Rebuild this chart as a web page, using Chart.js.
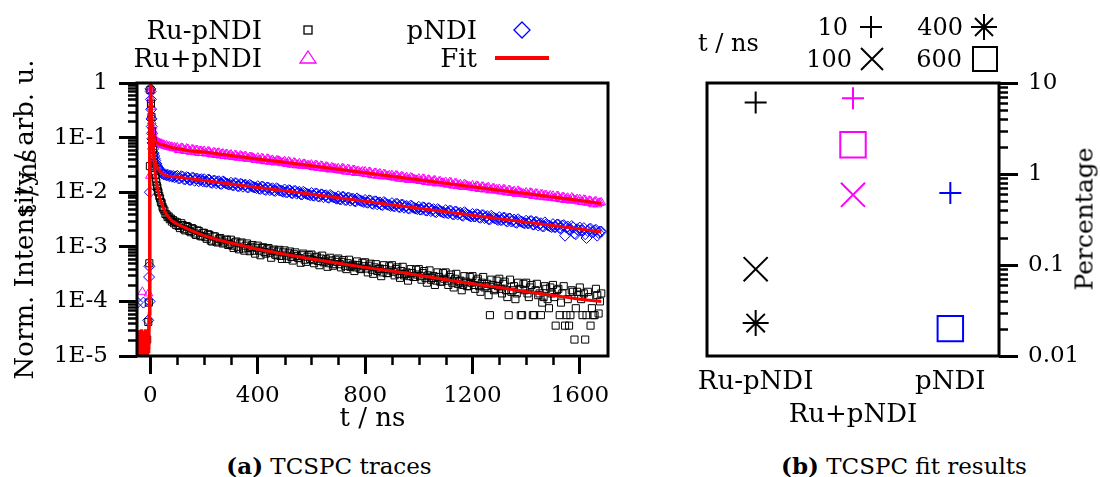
<!DOCTYPE html>
<html>
<head>
<meta charset="utf-8">
<script src="https://cdn.jsdelivr.net/npm/chart.js@4/dist/chart.umd.min.js"></script>
<style>
  body { margin: 0; width: 1100px; height: 477px; background: #fff; position: relative; overflow: hidden;
         font-family: "DejaVu Serif", serif; color: #000; }
  canvas { position: absolute; top: 0; }
  #traces { left: 0; }
  #fits { left: 660px; }
  .t { position: absolute; font-size: 26px; line-height: 1; white-space: nowrap; }
  .n { font-size: 24px; }
  .r { transform: translate(-100%, -50%); }
  .l { transform: translate(0, -50%); }
  .rot { transform: translate(-50%, -50%) rotate(-90deg); }
  .sym { position: absolute; transform: translate(-50%, -50%); }
  .cap { position: absolute; top: 465px; font-size: 23px; transform: translate(-50%, -50%); white-space: nowrap; }
</style>
</head>
<body>
<canvas id="traces" width="650" height="440"></canvas>
<canvas id="fits" width="440" height="440"></canvas>

<!-- legend, panel a -->
<div class="t r" style="left:262px; top:30px">Ru-pNDI</div>
<svg class="sym" style="left:308px; top:30px" width="12" height="12"><rect x="2" y="2" width="8" height="8" fill="none" stroke="#000" stroke-width="1.3"/></svg>
<div class="t r" style="left:262px; top:58px">Ru+pNDI</div>
<svg class="sym" style="left:308px; top:57px" width="20" height="16"><polygon points="10,2 18,14 2,14" fill="none" stroke="#ff00ff" stroke-width="1.3"/></svg>
<div class="t r" style="left:477px; top:30px">pNDI</div>
<svg class="sym" style="left:522px; top:30px" width="20" height="20"><polygon points="10,2 18,10 10,18 2,10" fill="none" stroke="#0000ff" stroke-width="1.3"/></svg>
<div class="t r" style="left:477px; top:58px">Fit</div>
<svg class="sym" style="left:522px; top:58px" width="54" height="6"><line x1="0" y1="3" x2="54" y2="3" stroke="#ff0000" stroke-width="4"/></svg>

<!-- legend, panel b -->
<div class="t n l" style="left:698px; top:43px">t / ns</div>
<div class="t n r" style="left:848px; top:27px">10</div>
<svg class="sym" style="left:871px; top:27px" width="26" height="26"><path d="M2 13H24M13 2V24" stroke="#000" stroke-width="2"/></svg>
<div class="t n r" style="left:852px; top:59px">100</div>
<svg class="sym" style="left:872px; top:59px" width="26" height="26"><path d="M2 2L24 24M24 2L2 24" stroke="#000" stroke-width="2"/></svg>
<div class="t n r" style="left:963px; top:27px">400</div>
<svg class="sym" style="left:984px; top:27px" width="28" height="28"><path d="M14 1V27M1 14H27M5 5L23 23M23 5L5 23" stroke="#000" stroke-width="2"/></svg>
<div class="t n r" style="left:962px; top:59px">600</div>
<svg class="sym" style="left:985px; top:59px" width="28" height="28"><rect x="2" y="2" width="24" height="24" fill="none" stroke="#000" stroke-width="2"/></svg>

<div class="t rot" style="left:1084px; top:219px; font-size:25px">Percentage</div>
<div class="t rot" style="left:27px; top:182px">t / ns</div>

<div class="cap" style="left:329px"><b>(a)</b> TCSPC traces</div>
<div class="cap" style="left:904px"><b>(b)</b> TCSPC fit results</div>

<script>
// ---------- panel (a): TCSPC traces ----------
const xTicks = [0, 400, 800, 1200, 1600];
const xMinor = [100, 200, 300, 500, 600, 700, 900, 1000, 1100, 1300, 1400, 1500];
const yTicks = [1e-5, 1e-4, 1e-3, 1e-2, 1e-1, 1];
const yTickLabels = ['1E-5', '1E-4', '1E-3', '1E-2', '1E-1', '1'];
const yMinor = [2e-5,3e-5,4e-5,5e-5,6e-5,7e-5,8e-5,9e-5, 2e-4,3e-4,4e-4,5e-4,6e-4,7e-4,8e-4,9e-4,
                2e-3,3e-3,4e-3,5e-3,6e-3,7e-3,8e-3,9e-3, 2e-2,3e-2,4e-2,5e-2,6e-2,7e-2,8e-2,9e-2,
                0.2,0.3,0.4,0.5,0.6,0.7,0.8,0.9];

// time channels after 100 ns
const tLate = [
  100,110,120,130,140,150,160,170,180,190,
  200,210,220,230,240,250,260,270,280,290,
  300,310,320,330,340,350,360,370,380,390,
  400,410,420,430,440,450,460,470,480,490,
  500,510,520,530,540,550,560,570,580,590,
  600,610,620,630,640,650,660,670,680,690,
  700,710,720,730,740,750,760,770,780,790,
  800,810,820,830,840,850,860,870,880,890,
  900,910,920,930,940,950,960,970,980,990,
  1000,1010,1020,1030,1040,1050,1060,1070,1080,1090,
  1100,1110,1120,1130,1140,1150,1160,1170,1180,1190,
  1200,1210,1220,1230,1240,1250,1260,1270,1280,1290,
  1300,1310,1320,1330,1340,1350,1360,1370,1380,1390,
  1400,1410,1420,1430,1440,1450,1460,1470,1480,1490,
  1500,1510,1520,1530,1540,1550,1560,1570,1580,1590,
  1600,1610,1620,1630,1640,1650,1660,1670,1680
];
const tLateMid = [
  105,115,125,135,145,155,165,175,185,195,
  205,215,225,235,245,255,265,275,285,295,
  305,315,325,335,345,355,365,375,385,395,
  405,415,425,435,445,455,465,475,485,495,
  505,515,525,535,545,555,565,575,585,595,
  605,615,625,635,645,655,665,675,685,695,
  705,715,725,735,745,755,765,775,785,795,
  805,815,825,835,845,855,865,875,885,895,
  905,915,925,935,945,955,965,975,985,995,
  1005,1015,1025,1035,1045,1055,1065,1075,1085,1095,
  1105,1115,1125,1135,1145,1155,1165,1175,1185,1195,
  1205,1215,1225,1235,1245,1255,1265,1275,1285,1295,
  1305,1315,1325,1335,1345,1355,1365,1375,1385,1395,
  1405,1415,1425,1435,1445,1455,1465,1475,1485,1495,
  1505,1515,1525,1535,1545,1555,1565,1575,1585,1595,
  1605,1615,1625,1635,1645,1655,1665,1675
];

// Ru-pNDI (black squares)
const ruMinusEarlyT = [-12,-8,-6,-4,-2,0,2,4,6,8,10,12,14,16,18,20,22,24,26,28,30,33,36,39,42,45,48,52,56,60,64,68,72,76,80,84,88,92,96];
const ruMinusEarly = [2.0e-5,4.2e-5,9.5e-5,5.0e-4,0.03,0.75,0.42,0.24,0.13,0.088,0.060,0.046,0.034,0.028,0.021,0.018,0.0152,0.013,0.0121,0.0104,
  0.0099,0.0085,0.0077,0.0066,0.0063,0.0054,0.0050,0.0046,0.0040,0.0039,0.0035,0.0036,0.0032,0.0033,0.0029,0.0031,0.0027,0.0029,0.0025];
const ruMinusLate = [
  28e-4,22e-4,25e-4,20e-4,23e-4,18.5e-4,21e-4,16.5e-4,19.5e-4,15.5e-4,
  18e-4,14e-4,16.5e-4,12.5e-4,15.5e-4,12e-4,14.5e-4,11.5e-4,13.5e-4,10.8e-4,
  13.5e-4,9.5e-4,12.5e-4,9.0e-4,12.0e-4,8.5e-4,11.5e-4,8.3e-4,10.8e-4,7.5e-4,
  10.5e-4,7.0e-4,9.8e-4,7.5e-4,9.5e-4,6.3e-4,8.9e-4,7.0e-4,8.8e-4,6.0e-4,
  8.6e-4,6.0e-4,8.2e-4,5.6e-4,7.9e-4,6.3e-4,5.1e-4,7.5e-4,5.3e-4,7.1e-4,
  7.2e-4,5.0e-4,6.6e-4,4.6e-4,6.9e-4,5.4e-4,4.3e-4,6.3e-4,4.5e-4,5.8e-4,
  6.1e-4,4.2e-4,5.7e-4,3.9e-4,5.8e-4,4.5e-4,3.6e-4,5.4e-4,4.0e-4,5.1e-4,
  5.2e-4,3.4e-4,4.9e-4,3.2e-4,4.8e-4,3.9e-4,2.9e-4,4.6e-4,3.3e-4,4.4e-4,
  4.6e-4,3.0e-4,4.2e-4,2.7e-4,4.3e-4,3.2e-4,2.4e-4,3.9e-4,2.8e-4,3.8e-4,
  3.9e-4,2.5e-4,3.6e-4,2.2e-4,3.7e-4,2.7e-4,2.0e-4,3.4e-4,2.3e-4,3.3e-4,
  3.4e-4,2.0e-4,3.1e-4,1.8e-4,3.2e-4,2.3e-4,1.6e-4,2.9e-4,1.9e-4,2.8e-4,
  2.9e-4,1.7e-4,2.6e-4,1.5e-4,2.8e-4,1.9e-4,1.3e-4,2.5e-4,1.6e-4,2.4e-4,
  2.6e-4,1.4e-4,2.3e-4,1.2e-4,2.5e-4,1.6e-4,1.1e-4,2.2e-4,0.56e-4,2.1e-4,
  2.2e-4,1.2e-4,2.0e-4,0.56e-4,2.1e-4,1.4e-4,0.95e-4,1.9e-4,1.1e-4,1.8e-4,
  2.0e-4,0.36e-4,1.7e-4,0.95e-4,1.9e-4,0.56e-4,0.36e-4,1.6e-4,0.2e-4,1.5e-4,
  1.8e-4,0.56e-4,0.2e-4,1.5e-4,0.36e-4,0.56e-4,1.7e-4,0.6e-4,1.4e-4
];
const ruMinusLateMid = [
  24e-4,27e-4,21e-4,24e-4,19.5e-4,22e-4,17.5e-4,20e-4,16e-4,18e-4,
  15e-4,17e-4,13e-4,15.5e-4,12.5e-4,14e-4,13e-4,12e-4,13.5e-4,11.2e-4,
  10.5e-4,12e-4,10e-4,11.5e-4,9.3e-4,10.5e-4,9.5e-4,10e-4,8.5e-4,9.6e-4,
  8.5e-4,9.5e-4,8.0e-4,9.0e-4,7.8e-4,8.5e-4,7.2e-4,8.2e-4,6.8e-4,7.9e-4,
  6.9e-4,7.6e-4,6.5e-4,7.3e-4,6.8e-4,6.2e-4,7.0e-4,5.8e-4,6.6e-4,6.0e-4,
  5.7e-4,6.4e-4,5.5e-4,6.1e-4,5.2e-4,5.9e-4,5.0e-4,5.6e-4,4.8e-4,5.3e-4,
  4.8e-4,5.3e-4,4.5e-4,5.0e-4,4.3e-4,4.7e-4,4.2e-4,4.6e-4,3.9e-4,4.4e-4,
  4.0e-4,4.5e-4,3.8e-4,4.2e-4,3.6e-4,4.0e-4,3.4e-4,3.9e-4,3.3e-4,3.7e-4,
  3.5e-4,3.9e-4,3.2e-4,3.6e-4,3.0e-4,3.4e-4,2.9e-4,3.3e-4,2.8e-4,3.1e-4,
  2.9e-4,3.3e-4,2.7e-4,3.0e-4,2.5e-4,2.9e-4,2.4e-4,2.8e-4,2.3e-4,2.6e-4,
  2.4e-4,2.8e-4,2.2e-4,2.6e-4,2.1e-4,2.4e-4,2.0e-4,2.3e-4,1.9e-4,2.2e-4,
  2.0e-4,2.4e-4,1.9e-4,2.2e-4,1.8e-4,2.1e-4,0.56e-4,2.0e-4,1.7e-4,1.9e-4,
  1.7e-4,2.1e-4,1.6e-4,0.56e-4,1.5e-4,1.9e-4,1.4e-4,1.7e-4,0.56e-4,1.6e-4,
  1.4e-4,1.8e-4,0.56e-4,1.6e-4,1.3e-4,0.56e-4,1.2e-4,1.7e-4,0.75e-4,1.4e-4,
  1.2e-4,1.6e-4,0.56e-4,1.4e-4,0.36e-4,1.1e-4,0.56e-4,1.5e-4,0.75e-4,1.3e-4,
  1.1e-4,1.4e-4,0.56e-4,1.2e-4,0.75e-4,0.56e-4,1.3e-4,1.0e-4
];

// Ru+pNDI (magenta triangles)
const ruPlusEarlyT = [-30,-7,-2,0,1,2,3,4,5,6,7,8,10,12,14,16,18,20,23,26,29,32,35,38,42,46,50,55,60,65,70,75,80,85,90,95];
const ruPlusEarly = [1.5e-4,1.4e-4,0.02,0.8,0.72,0.52,0.36,0.26,0.2,0.16,0.14,0.125,0.11,0.1,0.096,0.092,0.089,0.087,0.085,0.082,
  0.081,0.078,0.079,0.076,0.077,0.073,0.074,0.070,0.072,0.068,0.069,0.066,0.068,0.064,0.066,0.063];
const ruPlusLate = [
  66e-3,60e-3,64e-3,57e-3,62e-3,55e-3,60e-3,59e-3,52e-3,57e-3,
  57e-3,51e-3,55e-3,49e-3,53e-3,52e-3,47e-3,51e-3,49e-3,45e-3,
  49e-3,44e-3,47e-3,43e-3,46e-3,45e-3,41e-3,44e-3,43e-3,39e-3,
  43e-3,38e-3,41e-3,37e-3,40e-3,38e-3,36e-3,38e-3,37e-3,34e-3,
  37e-3,33e-3,35e-3,32e-3,34e-3,32e-3,31e-3,33e-3,30e-3,31e-3,
  32e-3,28.5e-3,31e-3,28e-3,30e-3,27.5e-3,29e-3,26e-3,28e-3,27e-3,
  27.5e-3,25e-3,27e-3,24e-3,26e-3,23.5e-3,25.5e-3,24e-3,22.5e-3,24e-3,
  24e-3,21.5e-3,23e-3,20.5e-3,22.5e-3,21e-3,20e-3,21.5e-3,19.5e-3,20.5e-3,
  20.5e-3,18.5e-3,20e-3,17.8e-3,19.3e-3,18e-3,17e-3,18.7e-3,17.5e-3,16.8e-3,
  17.8e-3,16e-3,17.3e-3,15.4e-3,16.6e-3,15.2e-3,16.5e-3,14.6e-3,15.8e-3,14.9e-3,
  15.4e-3,13.8e-3,15e-3,13.2e-3,14.5e-3,13.5e-3,12.7e-3,14.1e-3,13e-3,12.8e-3,
  13.3e-3,11.9e-3,12.9e-3,11.5e-3,12.6e-3,11.6e-3,12.3e-3,10.9e-3,11.8e-3,11.3e-3,
  11.5e-3,10.3e-3,11.2e-3,9.9e-3,10.8e-3,10.1e-3,9.5e-3,10.6e-3,9.8e-3,9.4e-3,
  9.9e-3,8.9e-3,9.7e-3,8.6e-3,9.4e-3,8.3e-3,9.1e-3,8.8e-3,8.0e-3,8.7e-3,
  8.6e-3,7.7e-3,8.4e-3,7.4e-3,8.1e-3,7.6e-3,7.2e-3,8.0e-3,7.1e-3,7.5e-3,
  7.4e-3,6.6e-3,7.2e-3,6.4e-3,6.9e-3,6.0e-3,6.8e-3,6.3e-3,6.5e-3
];
const ruPlusLateMid = [
  59e-3,65e-3,58e-3,63e-3,56e-3,61e-3,54e-3,59e-3,57e-3,53e-3,
  52e-3,56e-3,50e-3,54e-3,48e-3,53e-3,50e-3,46e-3,50e-3,47e-3,
  45e-3,48e-3,43e-3,47e-3,42e-3,46e-3,41e-3,44e-3,42e-3,40e-3,
  39e-3,42e-3,37e-3,41e-3,36e-3,39e-3,35e-3,38e-3,36e-3,35.5e-3,
  33.5e-3,36.5e-3,32e-3,35e-3,31e-3,34e-3,30.5e-3,33e-3,31e-3,30e-3,
  29e-3,31.5e-3,28e-3,30.5e-3,27e-3,29.5e-3,26.5e-3,28.5e-3,27e-3,25.5e-3,
  25e-3,27.5e-3,24e-3,26.5e-3,23.5e-3,25.5e-3,22.5e-3,24.5e-3,23e-3,22e-3,
  21.5e-3,23.5e-3,20.5e-3,22.5e-3,20e-3,22e-3,19.5e-3,21e-3,19.8e-3,19e-3,
  18.7e-3,20.3e-3,17.8e-3,19.5e-3,17.3e-3,18.8e-3,16.8e-3,18.2e-3,17e-3,16.5e-3,
  16.1e-3,17.6e-3,15.5e-3,16.9e-3,15e-3,16.2e-3,14.5e-3,15.7e-3,14.8e-3,14.2e-3,
  13.9e-3,15.2e-3,13.4e-3,14.6e-3,12.9e-3,14e-3,12.5e-3,13.6e-3,12.6e-3,12.2e-3,
  12e-3,13.1e-3,11.5e-3,12.6e-3,11.2e-3,12.1e-3,10.8e-3,11.7e-3,10.9e-3,10.6e-3,
  10.4e-3,11.3e-3,10e-3,10.9e-3,9.7e-3,10.5e-3,9.3e-3,10.1e-3,9.4e-3,9.1e-3,
  9.0e-3,9.8e-3,8.6e-3,9.4e-3,8.4e-3,9.1e-3,8.1e-3,8.8e-3,8.2e-3,7.9e-3,
  7.8e-3,8.5e-3,7.5e-3,8.1e-3,7.2e-3,7.9e-3,7.0e-3,7.6e-3,7.1e-3,6.8e-3,
  6.7e-3,7.3e-3,6.5e-3,7.0e-3,6.2e-3,6.7e-3,6.0e-3,6.4e-3
];

// pNDI (blue diamonds)
const pndiEarlyT = [-48,-26,-8,-5,-4,-3,-2,0,1,2,3,4,5,6,7,8,10,12,14,16,18,20,22,25,28,31,34,37,40,44,48,52,56,60,65,70,75,80,85,90,95];
const pndiEarly = [9.5e-5,9.5e-5,4.5e-5,2.8e-4,4.4e-4,1.0e-4,0.01,0.78,0.7,0.5,0.33,0.22,0.16,0.12,0.095,0.08,0.062,0.052,0.046,0.041,
  0.038,0.034,0.033,0.030,0.028,0.027,0.025,0.024,0.0235,0.022,0.0215,0.021,0.0212,0.0203,0.0208,0.0197,0.0202,0.0192,0.0198,0.0187,0.0194];
const pndiLate = [
  20.0e-3,18.1e-3,19.3e-3,17.2e-3,18.6e-3,16.8e-3,18.4e-3,17.5e-3,15.9e-3,17.3e-3,
  17.3e-3,15.5e-3,16.7e-3,14.8e-3,16.2e-3,15.6e-3,14.3e-3,15.8e-3,14.6e-3,13.9e-3,
  14.9e-3,13.3e-3,14.5e-3,12.9e-3,14.0e-3,13.5e-3,12.4e-3,13.7e-3,12.6e-3,12.2e-3,
  12.9e-3,11.5e-3,12.5e-3,11.0e-3,12.1e-3,11.4e-3,10.7e-3,11.8e-3,10.8e-3,10.5e-3,
  11.2e-3,10.0e-3,10.8e-3,9.6e-3,10.5e-3,9.9e-3,9.2e-3,10.2e-3,9.4e-3,9.1e-3,
  9.7e-3,8.6e-3,9.4e-3,8.3e-3,9.1e-3,8.7e-3,8.0e-3,8.9e-3,8.2e-3,7.8e-3,
  8.4e-3,7.4e-3,8.2e-3,7.2e-3,7.9e-3,7.5e-3,6.9e-3,7.7e-3,7.1e-3,6.8e-3,
  7.2e-3,6.4e-3,7.0e-3,6.1e-3,6.8e-3,6.4e-3,5.9e-3,6.6e-3,6.0e-3,5.8e-3,
  6.3e-3,5.5e-3,6.1e-3,5.3e-3,5.9e-3,5.5e-3,5.1e-3,5.7e-3,5.2e-3,5.0e-3,
  5.4e-3,4.8e-3,5.2e-3,4.6e-3,5.1e-3,4.7e-3,4.4e-3,4.9e-3,4.5e-3,4.3e-3,
  4.7e-3,4.1e-3,4.5e-3,3.9e-3,4.4e-3,4.1e-3,3.8e-3,4.3e-3,3.9e-3,3.7e-3,
  4.0e-3,3.6e-3,3.9e-3,3.4e-3,3.8e-3,3.5e-3,3.2e-3,3.7e-3,3.4e-3,3.2e-3,
  3.5e-3,3.1e-3,3.4e-3,2.9e-3,3.3e-3,3.0e-3,2.8e-3,3.2e-3,2.9e-3,2.75e-3,
  3.0e-3,2.7e-3,2.95e-3,2.55e-3,2.85e-3,2.6e-3,2.4e-3,2.8e-3,2.5e-3,2.35e-3,
  2.6e-3,2.3e-3,2.55e-3,2.2e-3,2.5e-3,2.25e-3,2.05e-3,2.4e-3,1.75e-3,2.1e-3,
  2.25e-3,2.0e-3,1.7e-3,1.95e-3,2.15e-3,1.85e-3,2.05e-3,1.8e-3,1.9e-3
];
const pndiLateMid = [
  17.8e-3,19.6e-3,17.4e-3,18.9e-3,16.8e-3,18.3e-3,16.2e-3,17.8e-3,16.9e-3,15.8e-3,
  15.6e-3,17.0e-3,15.0e-3,16.3e-3,14.6e-3,15.9e-3,14.2e-3,15.3e-3,14.4e-3,13.8e-3,
  13.5e-3,14.7e-3,13.0e-3,14.2e-3,12.6e-3,13.7e-3,12.2e-3,13.2e-3,12.4e-3,11.9e-3,
  11.6e-3,12.7e-3,11.2e-3,12.2e-3,10.9e-3,11.8e-3,10.5e-3,11.4e-3,10.7e-3,10.2e-3,
  10.0e-3,10.9e-3,9.7e-3,10.5e-3,9.4e-3,10.2e-3,9.1e-3,9.8e-3,9.2e-3,8.8e-3,
  8.7e-3,9.5e-3,8.4e-3,9.1e-3,8.1e-3,8.8e-3,7.9e-3,8.5e-3,8.0e-3,7.6e-3,
  7.5e-3,8.2e-3,7.2e-3,7.9e-3,7.0e-3,7.6e-3,6.8e-3,7.3e-3,6.9e-3,6.6e-3,
  6.5e-3,7.1e-3,6.2e-3,6.8e-3,6.0e-3,6.5e-3,5.8e-3,6.3e-3,5.9e-3,5.6e-3,
  5.6e-3,6.1e-3,5.4e-3,5.9e-3,5.2e-3,5.6e-3,5.0e-3,5.5e-3,5.1e-3,4.9e-3,
  4.8e-3,5.3e-3,4.65e-3,5.1e-3,4.5e-3,4.9e-3,4.3e-3,4.7e-3,4.4e-3,4.2e-3,
  4.2e-3,4.6e-3,4.0e-3,4.4e-3,3.9e-3,4.2e-3,3.7e-3,4.1e-3,3.8e-3,3.6e-3,
  3.6e-3,3.95e-3,3.45e-3,3.8e-3,3.35e-3,3.65e-3,3.2e-3,3.5e-3,3.3e-3,3.1e-3,
  3.1e-3,3.4e-3,3.0e-3,3.3e-3,2.9e-3,3.15e-3,2.75e-3,3.0e-3,2.85e-3,2.7e-3,
  2.7e-3,2.95e-3,2.55e-3,2.85e-3,2.45e-3,2.7e-3,2.35e-3,2.6e-3,2.45e-3,2.3e-3,
  2.3e-3,2.55e-3,2.2e-3,2.45e-3,1.6e-3,2.35e-3,2.05e-3,2.25e-3,1.7e-3,2.0e-3,
  2.0e-3,2.2e-3,1.45e-3,2.1e-3,1.85e-3,2.0e-3,1.6e-3,1.9e-3
];

// fitted curves (red)
const fitT = [-48,-46,-44,-42,-40,-38,-36,-34,-32,-30,-28,-26,-24,-22,-20,-18,-16,-14,-12,-10,-8,-6,
  -4,-3,-2,-1,0,1,2,3,4, 6,8,10,12,15,18,21,25,30,35,40, 50,60,70,80,100,125,150, 200,250,300,
  400,500,600,700,800,900,1000,1100,1200,1300,1400,1500,1600,1680];
const fitRuMinus = [1.1e-5,2.6e-5,0.9e-5,2.9e-5,1.3e-5,2.4e-5,1.0e-5,3.1e-5,1.4e-5,2.2e-5,1.2e-5,2.7e-5,1.1e-5,2.5e-5,1.6e-5,3.0e-5,1.3e-5,2.3e-5,1.5e-5,2.8e-5,1.4e-5,2.6e-5,
  5e-5,4e-4,0.02,0.3,1.05,0.8,0.45,0.32,0.24,
  0.135,0.088,0.061,0.045,0.031,0.022,0.0165,0.0125,0.0097,0.0079,0.0066,
  0.0049,0.0039,0.0034,0.0030,0.0026,0.0023,0.0020,
  0.0016,0.00135,0.00117,
  0.0009,0.00073,0.0006,0.0005,0.00042,0.00036,0.0003,0.00025,0.00021,0.00018,0.00015,0.00013,0.00011,0.0001];
const fitRuPlus = [1.3e-5,2.9e-5,1.0e-5,2.3e-5,1.6e-5,2.7e-5,0.9e-5,2.5e-5,1.2e-5,2.8e-5,1.4e-5,2.1e-5,1.0e-5,2.6e-5,1.5e-5,3.1e-5,1.2e-5,2.4e-5,1.0e-5,2.7e-5,1.7e-5,3.0e-5,
  6e-5,6e-4,0.04,0.45,1.05,0.88,0.6,0.4,0.28,
  0.17,0.13,0.11,0.1,0.092,0.087,0.084,0.081,0.078,0.076,0.075,
  0.073,0.070,0.068,0.066,0.063,0.060,0.057,
  0.0545,0.0506,0.0471,
  0.0407,0.0352,0.0304,0.0263,0.0227,0.0196,0.0169,0.0146,0.0126,0.0109,0.00943,0.00815,0.00704,0.0062];
const fitPndi = [0.8e-5,2.2e-5,1.5e-5,2.7e-5,1.0e-5,3.0e-5,1.2e-5,2.0e-5,0.9e-5,2.6e-5,1.7e-5,2.4e-5,1.0e-5,2.9e-5,1.3e-5,2.1e-5,1.1e-5,2.8e-5,1.6e-5,2.5e-5,1.2e-5,3.2e-5,
  6e-5,5e-4,0.03,0.4,1.05,0.85,0.55,0.36,0.24,
  0.12,0.08,0.062,0.052,0.043,0.037,0.033,0.029,0.026,0.024,0.0225,
  0.0207,0.0201,0.0197,0.0194,0.0190,0.0183,0.0176,
  0.0164,0.0152,0.0141,
  0.0122,0.0106,0.00913,0.0079,0.0068,0.0059,0.00508,0.00439,0.00379,0.00327,0.00283,0.00245,0.00211,0.00186];

// ---------- panel (b): fit results ----------
const samples = ['Ru-pNDI', 'Ru+pNDI', 'pNDI'];
const sampleColors = ['#000000', '#ff00ff', '#0000ff'];
const tau10 = [6.1, 6.8, 0.62];
const tau100 = [0.09, 0.59, null];
const tau400 = [0.023, null, null];
const tau600 = [null, 2.1, 0.02];
const pTicks = [0.01, 0.1, 1, 10];
const pTickLabels = ['0.01', '0.1', '1', '10'];
const pMinor = [0.02,0.03,0.04,0.05,0.06,0.07,0.08,0.09, 0.2,0.3,0.4,0.5,0.6,0.7,0.8,0.9, 2,3,4,5,6,7,8,9];

const FONT = { family: 'DejaVu Serif', size: 23 };
const TITLE_FONT = { family: 'DejaVu Serif', size: 26 };

const frame = {
  id: 'frame',
  afterDraw(chart, args, opts) {
    const { ctx, chartArea: a } = chart;
    ctx.save();
    ctx.strokeStyle = '#000';
    ctx.lineWidth = 2.5;
    (opts.minor || []).forEach(m => {
      const s = chart.scales[m.axis];
      m.values.forEach(v => {
        const p = Math.round(s.getPixelForValue(v)) + 0.5;
        ctx.beginPath();
        if (s.position === 'left') { ctx.moveTo(a.left, p); ctx.lineTo(a.left - m.length, p); }
        else if (s.position === 'right') { ctx.moveTo(a.right, p); ctx.lineTo(a.right + m.length, p); }
        else { ctx.moveTo(p, a.bottom); ctx.lineTo(p, a.bottom + m.length); }
        ctx.stroke();
      });
    });
    ctx.lineWidth = 3;
    ctx.strokeRect(a.left, a.top, a.width, a.height);
    ctx.restore();
  }
};

const pts = (ts, ys) => ts.map((t, i) => ({ x: t, y: ys[i] }));
const fixTicks = vals => s => { s.ticks = vals.map(v => ({ value: v })); };

const markerSet = (data, style, color, r) => ({
  data, pointStyle: style, pointRadius: r, borderColor: color, borderWidth: 1,
  backgroundColor: 'rgba(0,0,0,0)', order: 2
});
const fitSet = data => ({
  data, showLine: true, pointRadius: 0, borderColor: '#ff0000', borderWidth: 3,
  backgroundColor: '#ff0000', order: 0
});

new Chart(document.getElementById('traces'), {
  type: 'scatter',
  data: {
    datasets: [
      fitSet(pts(fitT, fitRuMinus)),
      fitSet(pts(fitT, fitRuPlus)),
      fitSet(pts(fitT, fitPndi)),
      markerSet(pts(ruMinusEarlyT.concat(tLate, tLateMid), ruMinusEarly.concat(ruMinusLate, ruMinusLateMid)), 'rect', '#000000', 5),
      markerSet(pts(ruPlusEarlyT.concat(tLate, tLateMid), ruPlusEarly.concat(ruPlusLate, ruPlusLateMid)), 'triangle', '#ff00ff', 5),
      markerSet(pts(pndiEarlyT.concat(tLate, tLateMid), pndiEarly.concat(pndiLate, pndiLateMid)), 'rectRot', '#0000ff', 5.5)
    ]
  },
  options: {
    responsive: false,
    animation: false,
    devicePixelRatio: 1,
    layout: { padding: { top: 83, right: 42, left: 0, bottom: 0 } },
    plugins: {
      legend: { display: false },
      tooltip: { enabled: false },
      frame: { minor: [{ axis: 'x', values: xMinor, length: 9 }, { axis: 'y', values: yMinor, length: 9 }] }
    },
    scales: {
      x: {
        type: 'linear', min: -50, max: 1705,
        afterBuildTicks: fixTicks(xTicks),
        afterFit: s => { s.height = 84; },
        grid: { drawOnChartArea: false, tickLength: 18, tickWidth: 3, tickColor: '#000' },
        border: { display: false },
        ticks: { font: FONT, color: '#000', padding: 8, maxRotation: 0, autoSkip: false, callback: v => String(v) },
        title: { display: true, text: 't / ns', font: TITLE_FONT, color: '#000', padding: { top: 0, bottom: 5 } }
      },
      y: {
        type: 'logarithmic', min: 1e-5, max: 1,
        afterBuildTicks: fixTicks(yTicks),
        afterFit: s => { s.width = 137; },
        grid: { drawOnChartArea: false, tickLength: 18, tickWidth: 3, tickColor: '#000' },
        border: { display: false },
        ticks: { font: FONT, color: '#000', padding: 11, autoSkip: false, callback: (v, i) => yTickLabels[i] },
        title: { display: true, text: 'Norm. Intensity / arb. u.', font: TITLE_FONT, color: '#000', padding: { top: 11, bottom: 0 } }
      }
    }
  },
  plugins: [frame]
});

const tauSet = (data, style, r) => ({
  data, pointStyle: style, pointRadius: r, showLine: false,
  borderColor: sampleColors, pointBorderColor: sampleColors, pointBorderWidth: 2,
  pointBackgroundColor: 'rgba(0,0,0,0)'
});

new Chart(document.getElementById('fits'), {
  type: 'line',
  data: {
    labels: samples,
    datasets: [
      tauSet(tau10, 'cross', 11),
      tauSet(tau100, 'crossRot', 17),
      tauSet(tau400, 'star', 13),
      tauSet(tau600, 'rect', 18)
    ]
  },
  options: {
    responsive: false,
    animation: false,
    devicePixelRatio: 1,
    layout: { padding: { top: 83, right: 0, left: 47, bottom: 0 } },
    plugins: {
      legend: { display: false },
      tooltip: { enabled: false },
      frame: { minor: [{ axis: 'y', values: pMinor, length: 9 }] }
    },
    scales: {
      x: {
        type: 'category', offset: true,
        afterFit: s => { s.height = 84; },
        grid: { display: false },
        border: { display: false },
        ticks: { font: { family: 'DejaVu Serif', size: 26, lineHeight: 1.25 }, color: '#000', padding: 2, maxRotation: 0, autoSkip: false,
                 callback: (v, i) => i === 1 ? ['', samples[i]] : samples[i] }
      },
      y: {
        type: 'logarithmic', position: 'right', min: 0.01, max: 10,
        afterBuildTicks: fixTicks(pTicks),
        afterFit: s => { s.width = 101; },
        grid: { drawOnChartArea: false, tickLength: 19, tickWidth: 3, tickColor: '#000' },
        border: { display: false },
        ticks: { font: FONT, color: '#000', padding: 10, autoSkip: false, callback: (v, i) => pTickLabels[i] }
      }
    }
  },
  plugins: [frame]
});
</script>
</body>
</html>
